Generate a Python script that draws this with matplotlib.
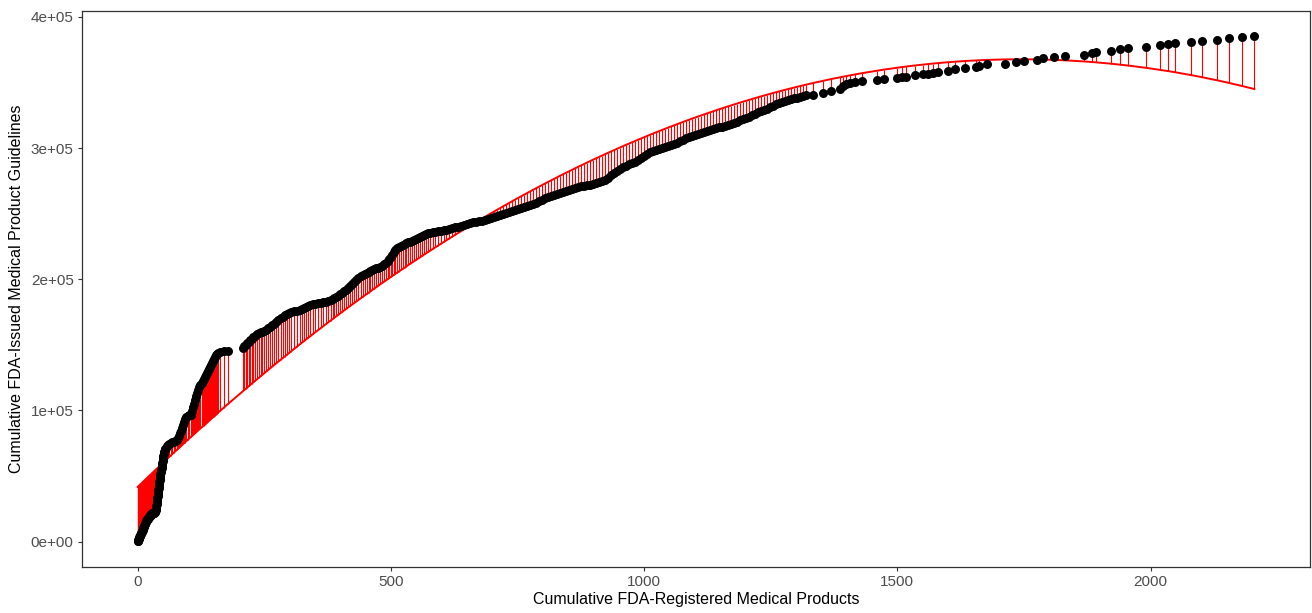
import numpy as np
import matplotlib.pyplot as plt
from matplotlib.ticker import FuncFormatter

plt.rcParams['font.family'] = ['Liberation Sans', 'DejaVu Sans']

# cumulative FDA-registered products (x) vs cumulative guidelines (y)
products = [0, 1, 2, 4, 6, 8, 10, 11, 12, 14, 16, 18, 20, 22, 24, 26, 28, 30, 32, 33,
            35, 36, 37, 38, 39, 40, 41, 42, 43, 44, 45, 46, 47, 48, 49, 50, 51, 53, 55, 57,
            59, 62, 65, 68, 71, 74, 77, 79, 81, 83, 85, 87, 89, 91, 93, 96, 99, 102, 105, 108,
            110, 112, 114, 116, 118, 120, 122, 124, 126, 128, 130, 132, 134, 136, 138, 140, 142, 144, 146, 148,
            150, 152, 154, 156, 159, 162, 170, 179,
            207, 210, 213, 216, 219, 222, 225, 228, 231, 235, 239, 243, 246, 250, 254, 258, 262, 266, 270, 274,
            278, 282, 286, 290, 294, 298, 302, 308, 314, 320, 325, 329, 333, 337, 341, 346, 351, 356, 361, 366,
            371, 376, 381, 385, 388, 392, 396, 400, 404, 408, 412, 416, 420, 424, 428, 432, 436, 440, 444, 448,
            452, 456, 459, 463, 467, 471, 475, 479, 483, 487, 491, 494, 497, 500, 503, 506, 509, 512, 515, 519,
            523, 527, 530, 534, 538, 542, 546, 550, 554, 558, 562, 566, 570, 574, 578, 583, 588, 593, 598, 604,
            609, 615, 621, 627, 633, 639, 645, 651, 657, 663,
            669, 674, 680, 686, 692, 698, 704, 710, 716, 722, 728, 733, 739, 745, 751, 757, 763, 769, 775, 781,
            787, 793, 799, 805, 810, 816, 822, 828, 834, 840, 846, 852, 858, 864, 870, 876, 881, 887, 893, 899,
            905, 911, 917, 923, 929, 935, 941, 946, 952, 958, 964, 970, 976, 982, 988, 994, 1000, 1006, 1012, 1018,
            1023, 1029, 1035, 1041, 1047, 1053, 1059, 1065, 1071, 1077, 1083, 1089, 1094, 1100, 1106, 1112, 1118, 1124, 1130, 1136,
            1142, 1148, 1154, 1160, 1165, 1171, 1177, 1183, 1189, 1195, 1201, 1207, 1213, 1219, 1225, 1231, 1236, 1242, 1248, 1254,
            1260, 1266, 1272, 1278, 1284, 1290, 1296, 1302, 1307, 1313, 1319, 1333, 1353, 1369, 1386,
            1392, 1398, 1406, 1416, 1430, 1459, 1473, 1499, 1509, 1518, 1534, 1550, 1560, 1570, 1580, 1601, 1613, 1633, 1656, 1662,
            1678, 1712, 1735, 1751, 1775, 1787, 1810, 1832, 1869, 1885, 1893, 1921, 1940, 1956, 1992, 2019, 2035, 2049, 2080, 2102,
            2132, 2155, 2181, 2205]
guidelines = [800, 1500, 2300, 4200, 6100, 7600, 9100, 10200, 11400, 13300, 15200, 16400, 17500, 18600, 19800, 20600, 21300, 21700, 22100, 22400,
              22800, 24000, 25900, 28800, 32000, 35000, 38100, 41200, 44200, 47200, 50300, 53400, 56400, 59000, 61700, 64300, 67000, 69500, 71600, 72800,
              73900, 74700, 75400, 75800, 76200, 77000, 77700, 79100, 80700, 82600, 84500, 86800, 89100, 91400, 93700, 95000, 96000, 96300, 96700, 99800,
              102400, 105100, 108100, 111200, 113500, 115800, 117700, 119600, 121100, 122600, 124100, 125700, 127200, 128700, 130200, 131800, 133300, 134800, 136300, 137900,
              139400, 140900, 142100, 143200, 144000, 144700, 145100, 145500,
              147700, 148800, 150000, 151100, 152300, 153400, 154600, 155800, 156900, 158100, 159200, 159600, 159900, 160700, 161500, 162600, 163700, 164800, 166000, 167500,
              169100, 170200, 171400, 172500, 173600, 174400, 175200, 175500, 175900, 176700, 177500, 178200, 179000, 179700, 180500, 180900, 181300, 181600, 182000, 182400,
              182800, 183500, 184300, 185000, 185800, 186600, 187400, 188500, 189600, 190700, 191900, 193400, 195000, 196500, 198000, 199500, 201100, 202200, 203300, 204100,
              204900, 205600, 206400, 207100, 207900, 208300, 208700, 209400, 210200, 211300, 212500, 213900, 215500, 217000, 218600, 220500, 222400, 223500, 224700, 225500,
              226200, 226900, 227700, 228100, 228500, 229200, 230000, 230700, 231500, 232200, 233000, 233800, 234600, 234900, 235300, 235700, 236100, 236500, 236900, 237200,
              237600, 238300, 239100, 239500, 239900, 240600, 241400, 242100, 242900, 243300,
              243700, 244100, 244500, 245200, 246000, 246700, 247500, 248200, 249000, 249800, 250600, 251300, 252100, 252800, 253600, 254300, 255100, 255900, 256700, 257400,
              258200, 259300, 260500, 261700, 262800, 263500, 264300, 265000, 265800, 266500, 267300, 268000, 268800, 269600, 270400, 270800, 271100, 271500, 271900, 272600,
              273400, 274100, 274900, 275900, 277200, 279100, 281000, 282600, 284100, 285200, 286400, 287500, 288600, 289700, 290900, 292400, 294000, 295500, 297000, 297800,
              298500, 299300, 300100, 300800, 301600, 302300, 303100, 304200, 305400, 306500, 307700, 308400, 309200, 309900, 310700, 311500, 312300, 313000, 313800, 314500,
              315300, 315700, 316100, 316800, 317600, 318300, 319100, 320200, 321400, 322100, 322900, 324000, 325200, 326300, 327500, 328200, 329000, 330100, 331300, 332400,
              333600, 334300, 335100, 335800, 336600, 337300, 338100, 338500, 338900, 339600, 340400, 340400, 342000, 343500, 345000,
              347300, 348800, 349600, 350300, 351100, 351900, 352600, 353400, 354100, 354100, 355700, 356400, 356400, 357200, 358000, 358700, 360200, 361000, 361800, 362500,
              364000, 364000, 365600, 366300, 367100, 368600, 369400, 370100, 370900, 372400, 373200, 373900, 375500, 376200, 377000, 378500, 379300, 380000, 380800, 381600,
              382300, 383800, 384600, 385400]

# the very dense early stretch (solid red block at the left) has stacked points
early_products = [0, 1, 2, 3, 4, 5, 6, 7, 8, 9, 10, 11, 12, 13, 14, 15, 16, 17, 18, 19,
                  20, 21, 22, 23, 24, 25, 26, 27, 28, 29, 30, 31, 32, 33, 34, 35, 36, 37, 38, 39,
                  40, 41, 42, 43, 44, 45, 46, 47, 48, 49, 50, 51, 52, 53, 54]
early_guidelines = [300, 1200, 2600, 3300, 4500, 5200, 6400, 6900, 7900, 8400, 9400, 10500, 11700, 12300, 13500, 14300, 15400, 15800, 16600, 17000,
                    17700, 18100, 18800, 19200, 19900, 20200, 20800, 21000, 21400, 21500, 21800, 21900, 22200, 22600, 22600, 23200, 24800, 27200, 30300, 33400,
                    36500, 39600, 42700, 45700, 48700, 51800, 54900, 57700, 60300, 63000, 65600, 68200, 68300, 70500, 70600]

x = np.array(products + early_products, dtype=float)
y = np.array(guidelines + early_guidelines, dtype=float)
order = np.argsort(x, kind='stable')
x, y = x[order], y[order]

# quadratic trend and residual segments
coef = np.polyfit(x, y, 2)
fit = np.polyval(coef, x)

fig = plt.figure(figsize=(13.12, 6.13), dpi=100)
ax = fig.add_axes([0.0625, 0.075, 0.936, 0.907])

ax.vlines(x, y, fit, colors='#ff0000', linewidth=0.8, zorder=1)
ax.plot(x, fit, color='#ff0000', linewidth=1.4, zorder=2)
ax.scatter(x, y, s=42, color='black', zorder=3, linewidths=0)

ax.set_xlim(-110, 2315)
ax.set_ylim(-19300, 404400)
ax.set_xticks([0, 500, 1000, 1500, 2000])
ax.set_yticks([0, 100000, 200000, 300000, 400000])
ax.yaxis.set_major_formatter(FuncFormatter(lambda v, p: f'{v:.0e}'))

for s in ax.spines.values():
    s.set_color('#333333')
    s.set_linewidth(0.9)
ax.tick_params(length=3, width=0.8, color='#333333', labelsize=11, labelcolor='#4d4d4d', pad=3)

ax.set_xlabel('Cumulative FDA-Registered Medical Products', fontsize=11.5, labelpad=2)
ax.set_ylabel('Cumulative FDA-Issued Medical Product Guidelines', fontsize=11.5, labelpad=5)

fig.savefig('out.png', dpi=100)
